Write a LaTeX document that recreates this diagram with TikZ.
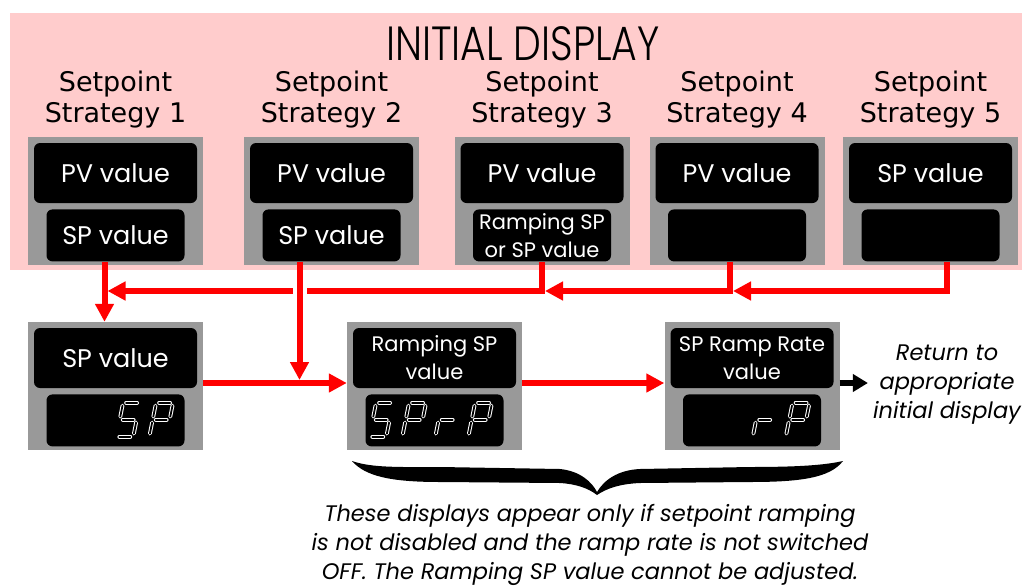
\documentclass[tikz,border=0pt]{standalone}
\usepackage{fontspec}
\setmainfont{Poppins}
\newfontfamily\stratfont{DejaVu Sans}
\newfontfamily\titlefont[FakeStretch=0.82]{Poppins Light}
\usetikzlibrary{positioning,arrows.meta}

\definecolor{pinkbg}{RGB}{255,204,204}
\definecolor{panelgray}{RGB}{153,153,153}

% seven segment pieces, origin at the bottom left of one digit
\newcommand{\sgA}{\draw[seg] (9.8,-34) -- (20.8,-34);}
\newcommand{\sgB}{\draw[seg] (21,-20) -- (23.2,-31);}
\newcommand{\sgC}{\draw[seg] (17.6,-3) -- (19.8,-14);}
\newcommand{\sgD}{\draw[seg] (3,0) -- (14,0);}
\newcommand{\sgE}{\draw[seg] (0.6,-3) -- (2.8,-14);}
\newcommand{\sgF}{\draw[seg] (4,-20) -- (6.2,-31);}
\newcommand{\sgG}{\draw[seg] (6.4,-17) -- (17.4,-17);}
% display node, digit place, segments
\newcommand{\segdigit}[3]{%
  \begin{scope}[shift={([xshift={(33*#2-29)*1pt},yshift=10pt]#1.south west)}]
    \foreach \s in {#3} {\csname sg\s\endcsname}
  \end{scope}}

\begin{document}
\begin{tikzpicture}[x=1pt,y=-1pt,
    panel/.style={fill=panelgray,minimum width=175pt,minimum height=128pt,inner sep=0pt},
    dtop/.style={fill=black,rounded corners=6pt,minimum width=163pt,minimum height=60pt,
      inner sep=0pt,text=white,align=center,font=\fontsize{25.5}{29}\selectfont},
    dbot/.style={dtop,minimum width=138pt,minimum height=52pt},
    small/.style={font=\fontsize{21}{28}\selectfont},
    strat/.style={align=center,inner sep=0pt,font=\stratfont\fontsize{27}{31}\selectfont},
    seg/.style={draw=white,line width=3.8pt,line cap=round,postaction={draw=black,line width=1.8pt}},
    flow/.style={draw=red,line width=6pt,-{Triangle[length=18pt,width=18pt]}},
    back/.style={draw=black,line width=6pt,-{Triangle[length=15pt,width=17pt]}},
    note/.style={align=center,font=\itshape\fontsize{22.5}{29}\selectfont}]

	\useasboundingbox (0,0) rectangle (1026,587);
	\fill[pinkbg] (10,13) rectangle (1022,270);

	\node[inner sep=0pt,text depth=0pt,font=\titlefont\fontsize{48}{48}\selectfont] (title) at (523,44) {INITIAL DISPLAY};

	\foreach \i/\x in {1/115.5,2/331.5,3/542,4/737,5/930.5} {
		\node[panel] (s\i) at (\x,201) {};
		\node[strat] (t\i) at (\x,100) {Setpoint\\Strategy \i};
	}

	\node[dtop, below=6pt of s1.north] (s1pv) {PV value};
	\node[dbot, below=6pt of s1pv] (s1sp) {SP value};
	\node[dtop, below=6pt of s2.north] (s2pv) {PV value};
	\node[dbot, below=6pt of s2pv] (s2sp) {SP value};
	\node[dtop, below=6pt of s3.north] (s3pv) {PV value};
	\node[dbot, small, below=6pt of s3pv] (s3sp) {Ramping SP\\or SP value};
	\node[dtop, below=6pt of s4.north] (s4pv) {PV value};
	\node[dbot, below=6pt of s4pv] (s4sp) {};
	\node[dtop, below=6pt of s5.north] (s5pv) {SP value};
	\node[dbot, below=6pt of s5pv] (s5sp) {};

	% second row
	\node[panel] (pA) at (115.5,386) {};
	\node[dtop, below=6pt of pA.north] (pAtop) {SP value};
	\node[dbot, below=6pt of pAtop] (pAseg) {};
	\node[panel] (pB) at (434.5,386) {};
	\node[dtop, small, below=6pt of pB.north] (pBtop) {Ramping SP\\value};
	\node[dbot, below=6pt of pBtop] (pBseg) {};
	\node[panel] (pC) at (752,386) {};
	\node[dtop, small, below=6pt of pC.north] (pCtop) {SP Ramp Rate\\value};
	\node[dbot, below=6pt of pCtop] (pCseg) {};

	\segdigit{pAseg}{3}{A,F,G,C,D}
	\segdigit{pAseg}{4}{A,B,F,G,E}
	\segdigit{pBseg}{1}{A,F,G,C,D}
	\segdigit{pBseg}{2}{A,B,F,G,E}
	\segdigit{pBseg}{3}{G,E}
	\segdigit{pBseg}{4}{A,B,F,G,E}
	\segdigit{pCseg}{3}{G,E}
	\segdigit{pCseg}{4}{A,B,F,G,E}

	\node[note, inner sep=5pt] (ret) at (947,385) {Return to\\appropriate\\initial display};

	% red connectors
	\coordinate (bus) at (0,291);
	\coordinate (row) at (0,383);
	\coordinate (j1) at ([xshift=-11pt]s1sp.south);
	\coordinate (j2) at ([xshift=-32pt]s2sp.south);
	\coordinate (j3) at (s3sp.south);
	\coordinate (j4) at ([xshift=-7pt]s4sp.south);
	\coordinate (j5) at ([xshift=16pt]s5sp.south);

	\draw[flow] (j5) -- (j5 |- bus) -- ([xshift=3pt]j4 |- bus);
	\draw[flow] (j4) -- (j4 |- bus) -- ([xshift=3pt]j3 |- bus);
	\draw[flow] (j3) -- (j3 |- bus) -- ([xshift=3pt]j1 |- bus);
	\draw[flow] (j1) -- (j1 |- pA.north);
	\fill[white] ([xshift=-7pt,yshift=4pt]j2 |- bus) rectangle ([xshift=7pt,yshift=-4pt]j2 |- bus);
	\draw[flow] (j2) -- ([yshift=3pt]j2 |- row);
	\draw[flow] (pA.east |- row) -- (pB.west |- row);
	\draw[flow] (pB.east |- row) -- (pC.west |- row);
	\draw[back] (pC.east |- row) -- (ret.west |- row);

	% brace under the ramping displays
	\fill (352,461) .. controls (372,468) and (400,467) .. (440,467) -- (560,469)
		.. controls (580,471) and (592,482) .. (597,492)
		.. controls (604,480) and (618,470) .. (640,469) -- (750,467)
		.. controls (800,467) and (825,465) .. (843,461)
		.. controls (830,478) and (800,482) .. (750,482) -- (640,483)
		.. controls (618,484) and (606,489) .. (597,495)
		.. controls (588,488) and (576,484) .. (560,483) -- (440,482)
		.. controls (390,482) and (365,476) .. cycle;

	\node[note] (info) at (590,545) {These displays appear only if setpoint ramping\\is not disabled and the ramp rate is not switched\\OFF. The Ramping SP value cannot be adjusted.};
\end{tikzpicture}
\end{document}
